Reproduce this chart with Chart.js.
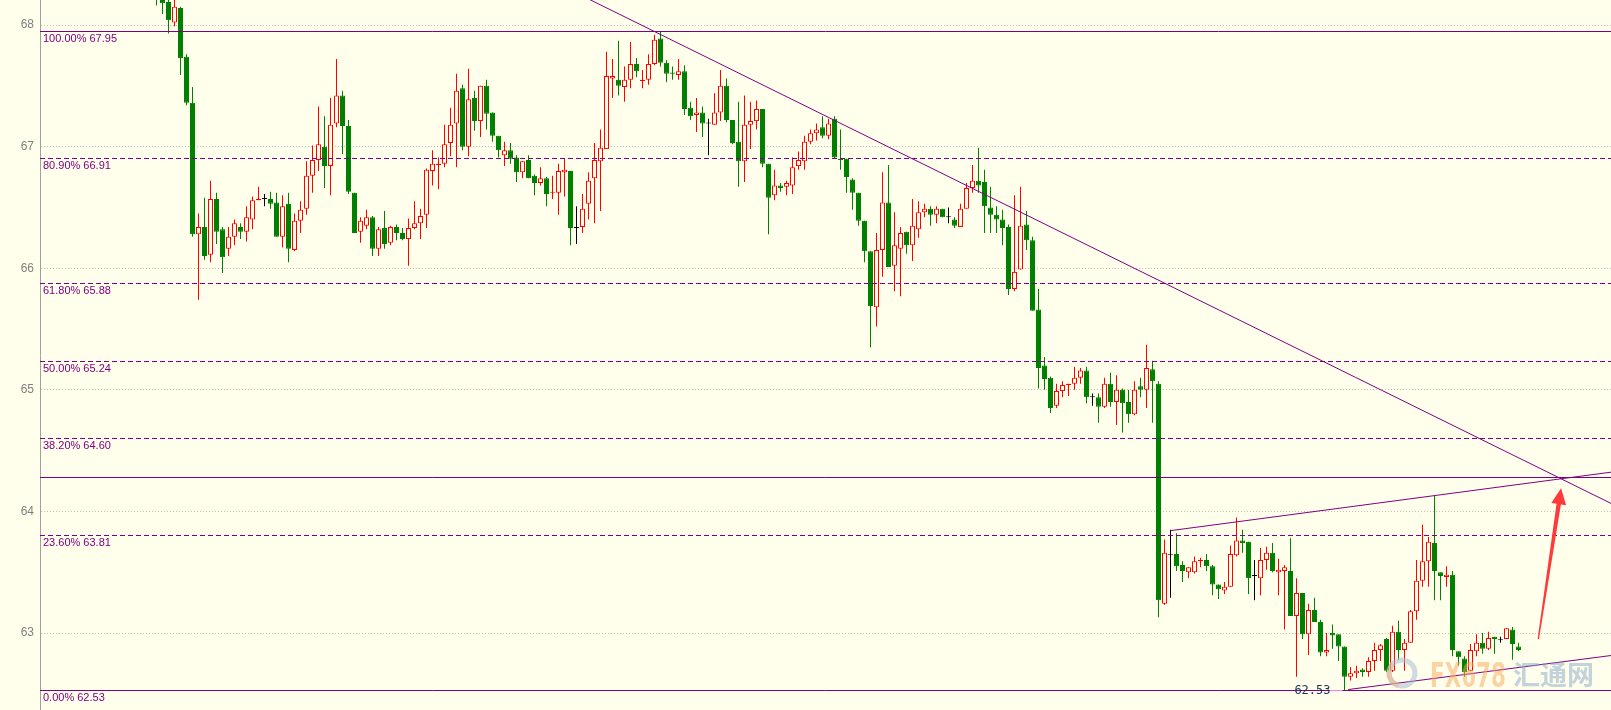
<!DOCTYPE html>
<html>
<head>
<meta charset="utf-8">
<script src="https://cdn.jsdelivr.net/npm/chart.js@4.4.0/dist/chart.umd.min.js"></script>
<style>
  html, body { margin: 0; padding: 0; background: #ffffec; overflow: hidden; }
  #wrap { width: 1611px; height: 710px; }
</style>
</head>
<body>
<div id="wrap"><canvas id="priceChart" width="1611" height="710"></canvas></div>
<script>
// candle values (one entry per bar, oldest first)
const opens = [
  68.30, 68.26, 68.19, 68.02, 68.14, 67.74, 67.36, 66.28, 66.34, 66.11,
  66.57, 66.32, 66.16, 66.26, 66.34, 66.30, 66.40, 66.56, 66.57, 66.57,
  66.54, 66.26, 66.53, 66.15, 66.39, 66.49, 66.76, 66.89, 67.00, 66.84,
  67.19, 67.42, 67.17, 66.62, 66.30, 66.35, 66.42, 66.16, 66.33, 66.21,
  66.34, 66.29, 66.24, 66.33, 66.37, 66.44, 66.80, 66.85, 66.86, 67.03,
  67.19, 67.48, 67.00, 67.40, 67.21, 67.50, 67.28, 67.09, 66.93, 66.97,
  66.91, 66.79, 66.89, 66.76, 66.70, 66.74, 66.62, 66.62, 66.79, 66.80,
  66.33, 66.34, 66.53, 66.74, 66.88, 66.98, 67.56, 67.55, 67.49, 67.55,
  67.68, 67.54, 67.55, 67.68, 67.89, 67.69, 67.61, 67.59, 67.62, 67.32,
  67.26, 67.28, 67.19, 67.18, 67.28, 67.50, 67.22, 67.04, 66.88, 67.18,
  67.21, 67.31, 66.86, 66.60, 66.68, 66.67, 66.68, 66.84, 66.88, 67.04,
  67.11, 67.16, 67.09, 67.23, 66.90, 66.90, 66.73, 66.62, 66.39, 66.14,
  65.68, 66.15, 66.54, 66.02, 66.16, 66.30, 66.19, 66.32, 66.46, 66.49,
  66.44, 66.49, 66.42, 66.40, 66.34, 66.49, 66.66, 66.72, 66.71, 66.50,
  66.44, 66.40, 66.34, 65.83, 65.99, 66.36, 66.23, 65.66, 65.20, 65.10,
  64.87, 64.99, 65.04, 65.05, 65.10, 65.16, 64.94, 64.94, 64.86, 65.05,
  64.90, 65.00, 64.90, 64.80, 65.03, 65.00, 65.17, 65.05, 63.24, 63.64,
  63.65, 63.56, 63.50, 63.50, 63.59, 63.60, 63.55, 63.40, 63.35, 63.38,
  63.64, 63.76, 63.75, 63.47, 63.45, 63.60, 63.66, 63.50, 63.51, 63.51,
  63.14, 63.33, 62.99, 63.19, 63.09, 62.84, 63.00, 62.99, 62.89, 62.64,
  62.67, 62.70, 62.68, 62.77, 62.86, 62.95, 62.69, 63.01, 62.86, 62.92,
  63.18, 63.43, 63.59, 63.74, 63.50, 63.46, 63.48, 62.85, 62.79, 62.69,
  62.85, 62.92, 62.87, 62.97, 62.94, 62.95, 63.03, 62.89
];
const highs = [
  68.35, 68.30, 68.21, 68.22, 68.15, 67.76, 67.49, 66.45, 66.58, 66.72,
  66.62, 66.34, 66.34, 66.40, 66.37, 66.51, 66.59, 66.67, 66.61, 66.63,
  66.62, 66.60, 66.62, 66.45, 66.55, 66.88, 67.01, 67.33, 67.25, 67.40,
  67.72, 67.46, 67.22, 66.62, 66.42, 66.48, 66.43, 66.34, 66.47, 66.35,
  66.36, 66.33, 66.41, 66.55, 66.49, 66.82, 66.97, 66.91, 67.18, 67.32,
  67.60, 67.51, 67.64, 67.46, 67.50, 67.55, 67.28, 67.09, 67.04, 67.03,
  66.93, 66.88, 66.93, 66.77, 66.83, 66.75, 66.76, 66.86, 66.90, 66.80,
  66.51, 66.61, 66.79, 67.03, 67.14, 67.78, 67.72, 67.87, 67.66, 67.86,
  67.73, 67.63, 67.76, 67.92, 67.95, 67.71, 67.66, 67.72, 67.67, 67.37,
  67.40, 67.33, 67.23, 67.44, 67.63, 67.56, 67.22, 67.37, 67.42, 67.37,
  67.38, 67.31, 66.86, 66.81, 66.70, 66.72, 66.91, 66.96, 67.09, 67.14,
  67.19, 67.25, 67.23, 67.25, 67.14, 66.90, 66.74, 66.62, 66.39, 66.14,
  66.29, 66.79, 66.85, 66.46, 66.34, 66.30, 66.57, 66.55, 66.53, 66.51,
  66.51, 66.49, 66.50, 66.42, 66.53, 66.70, 66.85, 66.99, 66.81, 66.67,
  66.51, 66.48, 66.36, 66.60, 66.67, 66.47, 66.26, 65.83, 65.27, 65.11,
  65.05, 65.07, 65.05, 65.19, 65.18, 65.19, 64.97, 64.97, 65.10, 65.14,
  65.12, 65.01, 65.00, 65.07, 65.10, 65.37, 65.24, 65.07, 63.77, 63.85,
  63.82, 63.59, 63.54, 63.63, 63.62, 63.65, 63.56, 63.40, 63.42, 63.72,
  63.95, 63.85, 63.75, 63.60, 63.70, 63.71, 63.74, 63.61, 63.56, 63.78,
  63.45, 63.33, 63.24, 63.29, 63.11, 63.00, 63.07, 62.99, 62.89, 62.72,
  62.73, 62.71, 62.80, 62.92, 62.91, 62.96, 63.06, 63.10, 62.95, 63.19,
  63.60, 63.89, 63.79, 64.13, 63.50, 63.55, 63.51, 62.85, 62.81, 62.91,
  62.99, 63.00, 63.01, 62.97, 62.97, 63.04, 63.05, 62.92
];
const lows = [
  68.16, 68.09, 67.93, 67.99, 67.59, 67.34, 66.26, 65.74, 66.07, 66.05,
  66.20, 65.96, 66.10, 66.19, 66.24, 66.22, 66.32, 66.56, 66.51, 66.49,
  66.26, 66.17, 66.05, 66.14, 66.29, 66.44, 66.62, 66.80, 66.66, 66.60,
  67.16, 66.94, 66.61, 66.29, 66.21, 66.32, 66.10, 66.10, 66.16, 66.19,
  66.23, 66.23, 66.02, 66.32, 66.24, 66.33, 66.68, 66.65, 66.83, 66.92,
  66.83, 66.97, 66.92, 67.13, 67.08, 67.14, 67.04, 66.91, 66.84, 66.86,
  66.71, 66.74, 66.74, 66.60, 66.68, 66.51, 66.57, 66.44, 66.59, 66.19,
  66.20, 66.29, 66.40, 66.37, 66.47, 66.98, 67.40, 67.42, 67.37, 67.48,
  67.57, 67.48, 67.51, 67.67, 67.66, 67.53, 67.55, 67.55, 67.26, 67.22,
  67.12, 67.08, 66.93, 67.18, 67.21, 67.20, 67.02, 66.67, 66.71, 66.98,
  67.14, 66.83, 66.28, 66.56, 66.63, 66.60, 66.61, 66.81, 66.81, 67.02,
  67.05, 67.07, 67.06, 66.90, 66.81, 66.62, 66.48, 66.35, 66.05, 65.35,
  65.52, 65.93, 66.01, 65.81, 65.77, 66.12, 66.06, 66.25, 66.42, 66.35,
  66.37, 66.42, 66.37, 66.33, 66.34, 66.49, 66.62, 66.62, 66.29, 66.29,
  66.29, 66.19, 65.78, 65.81, 65.99, 66.15, 65.65, 65.01, 65.00, 64.81,
  64.85, 64.94, 64.95, 65.00, 65.05, 64.89, 64.87, 64.73, 64.85, 64.86,
  64.71, 64.65, 64.73, 64.79, 64.94, 64.85, 64.73, 63.13, 63.23, 63.29,
  63.51, 63.42, 63.45, 63.49, 63.54, 63.51, 63.31, 63.28, 63.32, 63.38,
  63.63, 63.66, 63.32, 63.27, 63.31, 63.52, 63.50, 63.31, 63.03, 63.14,
  62.64, 62.95, 62.82, 63.09, 62.81, 62.81, 62.87, 62.77, 62.53, 62.61,
  62.63, 62.64, 62.64, 62.69, 62.77, 62.68, 62.68, 62.78, 62.69, 62.92,
  63.11, 63.38, 63.38, 63.27, 63.27, 63.38, 62.81, 62.73, 62.64, 62.69,
  62.81, 62.83, 62.86, 62.83, 62.92, 62.95, 62.78, 62.85
];
const closes = [
  68.22, 68.18, 68.04, 68.15, 67.73, 67.36, 66.28, 66.34, 66.10, 66.57,
  66.30, 66.09, 66.26, 66.37, 66.30, 66.42, 66.56, 66.57, 66.57, 66.53,
  66.26, 66.51, 66.16, 66.39, 66.48, 66.76, 66.89, 67.02, 66.84, 67.18,
  67.42, 67.17, 66.63, 66.29, 66.39, 66.42, 66.16, 66.32, 66.20, 66.34,
  66.29, 66.24, 66.33, 66.37, 66.43, 66.81, 66.86, 66.86, 67.02, 67.18,
  67.46, 67.00, 67.39, 67.21, 67.50, 67.27, 67.09, 66.97, 66.97, 66.90,
  66.79, 66.88, 66.74, 66.70, 66.74, 66.61, 66.63, 66.80, 66.81, 66.33,
  66.33, 66.49, 66.72, 66.89, 66.99, 67.58, 67.58, 67.50, 67.55, 67.68,
  67.62, 67.55, 67.68, 67.88, 67.69, 67.60, 67.60, 67.62, 67.31, 67.25,
  67.28, 67.19, 67.19, 67.28, 67.50, 67.22, 67.03, 66.88, 67.18, 67.21,
  67.31, 66.86, 66.58, 66.68, 66.66, 66.70, 66.83, 66.89, 67.04, 67.11,
  67.14, 67.09, 67.19, 66.91, 66.89, 66.75, 66.62, 66.39, 66.14, 65.69,
  66.15, 66.54, 66.01, 66.19, 66.29, 66.19, 66.35, 66.46, 66.49, 66.44,
  66.49, 66.42, 66.42, 66.35, 66.49, 66.66, 66.72, 66.68, 66.51, 66.44,
  66.40, 66.33, 65.83, 65.97, 66.35, 66.23, 65.65, 65.18, 65.09, 64.85,
  64.99, 65.04, 65.05, 65.10, 65.16, 64.94, 64.94, 64.86, 65.05, 64.90,
  65.00, 64.89, 64.80, 65.00, 65.00, 65.18, 65.07, 63.27, 63.66, 63.64,
  63.55, 63.51, 63.54, 63.59, 63.60, 63.55, 63.40, 63.36, 63.38, 63.65,
  63.76, 63.74, 63.45, 63.47, 63.60, 63.66, 63.51, 63.52, 63.54, 63.14,
  63.33, 62.99, 63.19, 63.09, 62.84, 62.86, 62.98, 62.89, 62.64, 62.67,
  62.69, 62.68, 62.77, 62.86, 62.90, 62.69, 63.01, 62.86, 62.92, 63.18,
  63.43, 63.59, 63.75, 63.51, 63.47, 63.48, 62.86, 62.80, 62.68, 62.86,
  62.92, 62.87, 62.96, 62.95, 62.94, 63.04, 62.91, 62.86
];

// fibonacci retracement levels and other drawn levels
const fibPercents = ['100.00%', '80.90%', '61.80%', '50.00%', '38.20%', '23.60%', '0.00%'];
const fibLevels = [67.95, 66.91, 65.88, 65.24, 64.60, 63.81, 62.53];
const yTicks = [63, 64, 65, 66, 67, 68];
const pivotLevel = 64.28;

// trend lines as [bar index, price] pairs
const downTrend = [[50, 68.75], [242.42, 64.066]];
const channelTop = [[169, 63.842], [242.42, 64.323]];
const channelBottom = [[198.6, 62.535], [242.42, 62.815]];
const arrowTail = [230.3, 62.95];
const arrowTip = [234.1, 64.19];

// visible window
const xMin = -19.4167, xMax = 242.4167;
const yMin = 62.367, yMax = 68.206;

const BG = '#ffffec';
const PURPLE = '#800080';

function candleColor(i) {
    if (closes[i] > opens[i]) return '#ff0000';
    if (closes[i] < opens[i]) return '#008000';
    return '#000000';
}

function lineSet(points) {
    return {
        type: 'line',
        data: points.map(p => ({ x: p[0], y: p[1] })),
        borderColor: PURPLE,
        borderWidth: 1,
        pointRadius: 0,
        fill: false,
        tension: 0,
        order: 1
    };
}

const overlay = {
    id: 'overlay',
    beforeDraw(chart) {
        const ctx = chart.ctx;
        ctx.save();
        ctx.fillStyle = BG;
        ctx.fillRect(0, 0, chart.width, chart.height);
        ctx.restore();
    },
    afterDatasetsDraw(chart) {
        const { ctx, chartArea: area, scales: { x, y } } = chart;
        ctx.save();

        // horizontal levels, snapped to whole pixels so they stay sharp
        const hline = (v, dash) => {
            const py = Math.round(y.getPixelForValue(v)) + 0.5;
            ctx.setLineDash(dash);
            ctx.beginPath();
            ctx.moveTo(area.left, py);
            ctx.lineTo(area.right, py);
            ctx.stroke();
        };
        ctx.strokeStyle = PURPLE;
        ctx.lineWidth = 1;
        fibLevels.forEach((v, k) => {
            const solid = k === 0 || k === fibLevels.length - 1;
            hline(v, solid ? [] : [5, 3]);
        });
        hline(pivotLevel, []);
        ctx.setLineDash([]);

        // fib labels under each line
        ctx.font = '11px "Liberation Sans", Arial, sans-serif';
        ctx.fillStyle = PURPLE;
        ctx.textAlign = 'left';
        ctx.textBaseline = 'top';
        fibLevels.forEach((v, k) => {
            ctx.fillText(fibPercents[k] + ' ' + v.toFixed(2), area.left + 3, Math.round(y.getPixelForValue(v)) + 2);
        });

        // lowest low marker
        const lowest = Math.min(...lows);
        const li = lows.indexOf(lowest);
        const lx = x.getPixelForValue(li);
        const ly = Math.round(y.getPixelForValue(lowest)) + 0.5;
        ctx.strokeStyle = '#ee82ee';
        ctx.beginPath();
        ctx.moveTo(lx - 15, ly);
        ctx.lineTo(lx - 2, ly);
        ctx.stroke();
        ctx.font = '12px "DejaVu Sans Mono", monospace';
        ctx.fillStyle = '#14355a';
        ctx.textAlign = 'right';
        ctx.textBaseline = 'middle';
        ctx.fillText(lowest.toFixed(2), lx - 14, ly);

        // red arrow
        const t = { x: x.getPixelForValue(arrowTail[0]), y: y.getPixelForValue(arrowTail[1]) };
        const p = { x: x.getPixelForValue(arrowTip[0]), y: y.getPixelForValue(arrowTip[1]) };
        const len = Math.hypot(p.x - t.x, p.y - t.y);
        const ux = (p.x - t.x) / len, uy = (p.y - t.y) / len;
        const nx = -uy, ny = ux;
        const bx = p.x - ux * 16, by = p.y - uy * 16;
        ctx.beginPath();
        ctx.moveTo(t.x + nx * 0.7, t.y + ny * 0.7);
        ctx.lineTo(bx + nx * 2.2, by + ny * 2.2);
        ctx.lineTo(bx + nx * 7.5, by + ny * 7.5);
        ctx.lineTo(p.x, p.y);
        ctx.lineTo(bx - nx * 7.5, by - ny * 7.5);
        ctx.lineTo(bx - nx * 2.2, by - ny * 2.2);
        ctx.lineTo(t.x - nx * 0.7, t.y - ny * 0.7);
        ctx.closePath();
        ctx.fillStyle = '#ff3a3a';
        ctx.fill();

        // watermark
        const wx = area.right, wy = area.bottom;
        ctx.globalAlpha = 0.5;
        ctx.lineWidth = 5;
        ctx.strokeStyle = '#9fb8d4';
        ctx.beginPath();
        ctx.arc(wx - 209, wy - 37, 13, 0, Math.PI * 2);
        ctx.stroke();
        ctx.strokeStyle = '#f5b07a';
        ctx.beginPath();
        ctx.arc(wx - 209, wy - 37, 13, Math.PI * 0.6, Math.PI * 1.25);
        ctx.stroke();
        ctx.save();
        ctx.translate(wx - 181, wy - 23);
        ctx.scale(0.63, 1);
        ctx.font = 'bold 34px "DejaVu Sans", sans-serif';
        ctx.fillStyle = '#f7a85a';
        ctx.textAlign = 'left';
        ctx.textBaseline = 'alphabetic';
        ctx.fillText('FX678', 0, 0);
        ctx.restore();
        ctx.font = 'bold 27px "Noto Sans CJK SC", sans-serif';
        ctx.fillStyle = '#86a8cc';
        ctx.textAlign = 'left';
        ctx.textBaseline = 'alphabetic';
        ctx.fillText('汇通网', wx - 98, wy - 25);

        ctx.restore();
    }
};

new Chart(document.getElementById('priceChart'), {
    type: 'bar',
    data: {
        datasets: [
            {
                label: 'wick',
                data: highs.map((h, i) => ({ x: i, y: [lows[i], h] })),
                backgroundColor: highs.map((h, i) => candleColor(i)),
                borderWidth: 0,
                grouped: false,
                categoryPercentage: 1,
                barPercentage: 1 / 6,
                inflateAmount: 0,
                order: 3
            },
            {
                label: 'body',
                data: opens.map((o, i) => ({ x: i, y: [o, closes[i]] })),
                backgroundColor: opens.map((o, i) => closes[i] > o ? BG : candleColor(i)),
                borderColor: opens.map((o, i) => candleColor(i)),
                borderWidth: 1,
                borderSkipped: false,
                grouped: false,
                categoryPercentage: 1,
                barPercentage: 5 / 6,
                minBarLength: 1,
                inflateAmount: 0,
                order: 2
            },
            lineSet(downTrend),
            lineSet(channelTop),
            lineSet(channelBottom)
        ]
    },
    options: {
        responsive: false,
        animation: false,
        devicePixelRatio: 1,
        layout: { padding: 0, autoPadding: false },
        plugins: {
            legend: { display: false },
            tooltip: { enabled: false }
        },
        scales: {
            x: {
                type: 'linear',
                min: xMin,
                max: xMax,
                offset: false,
                display: false,
                ticks: { stepSize: 50 }
            },
            y: {
                type: 'linear',
                position: 'left',
                min: yMin,
                max: yMax,
                afterBuildTicks: s => { s.ticks = yTicks.map(v => ({ value: v })); },
                afterFit: s => { s.width = 40; s.paddingTop = 0; s.paddingBottom = 0; },
                ticks: {
                    color: '#808080',
                    padding: 6,
                    font: { family: '"Liberation Sans", Arial, sans-serif', size: 12 }
                },
                grid: { color: '#c0c0c0', drawTicks: false, lineWidth: 1 },
                border: { display: true, color: '#a0a0a0', width: 1, dash: [1, 2] }
            }
        }
    },
    plugins: [overlay]
});
</script>
</body>
</html>
